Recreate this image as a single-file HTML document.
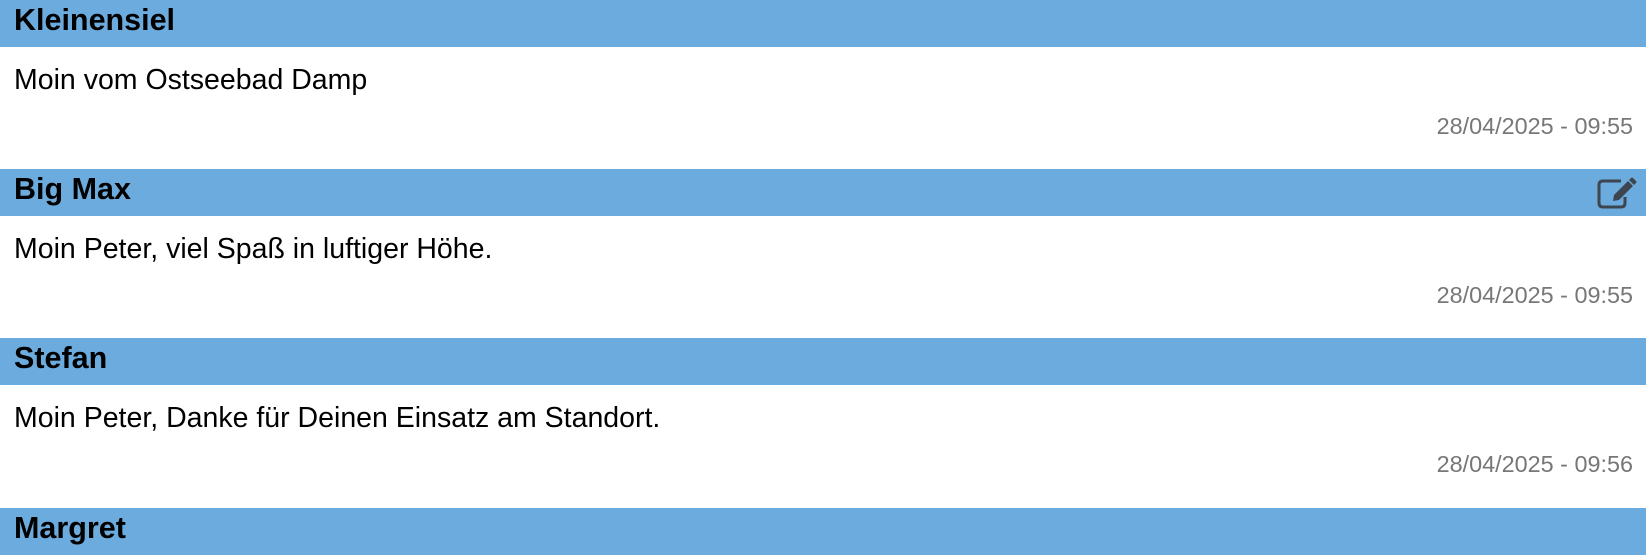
<!DOCTYPE html>
<html><head><meta charset="utf-8"><style>
html,body{margin:0;padding:0;width:1646px;height:523px;overflow:hidden;background:#fff;font-family:"Liberation Sans",Arial,sans-serif;}
.h{position:absolute;left:0;width:1646px;height:47px;background:#6cabdd;}
.h span{position:absolute;left:14px;top:5px;font-weight:bold;font-size:30.5px;color:#000;line-height:31px;}
.t{position:absolute;left:14px;font-size:28.5px;color:#000;line-height:29px;}
.d{position:absolute;right:13px;font-size:23.4px;color:#777;line-height:24px;}
</style></head><body>
<div class="h" style="top:0"><span>Kleinensiel</span></div>
<div class="t" style="top:66px">Moin vom Ostseebad Damp</div>
<div class="d" style="top:114px">28/04/2025 - 09:55</div>

<div class="h" style="top:169px"><span>Big Max</span>
<svg style="position:absolute;left:1597px;top:8px" width="40" height="32" viewBox="0 0 40 32">
<path d="M24 4 H6 Q2 4 2 8 V26 Q2 30 6 30 H24 Q28 30 28 26 V20" fill="none" stroke="#3d4650" stroke-width="3"/>
<path d="M16 24 L17 18 L31 4 L36 9 L22 23 Z" fill="#3d4650"/>
<path d="M32 3 L34 1 Q35 0 36 1 L39 4 Q40 5 39 6 L37 8 Z" fill="#3d4650"/>
</svg></div>
<div class="t" style="top:235px">Moin Peter, viel Spaß in luftiger Höhe.</div>
<div class="d" style="top:283px">28/04/2025 - 09:55</div>

<div class="h" style="top:338px"><span>Stefan</span></div>
<div class="t" style="top:404px">Moin Peter, Danke für Deinen Einsatz am Standort.</div>
<div class="d" style="top:452px">28/04/2025 - 09:56</div>

<div class="h" style="top:508px"><span>Margret</span></div>
</body></html>
